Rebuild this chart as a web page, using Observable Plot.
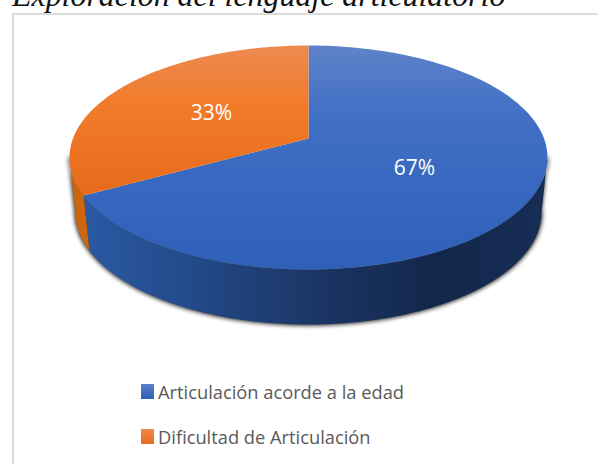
<!DOCTYPE html>
<html lang="es">
<head>
<meta charset="utf-8">
<script src="https://cdn.jsdelivr.net/npm/d3@7"></script>
<script src="https://cdn.jsdelivr.net/npm/@observablehq/plot@0.6"></script>
<style>
  html, body { margin: 0; padding: 0; background: #fff; }
  #page { position: relative; width: 598px; height: 464px; overflow: hidden; }
  #title { position: absolute; left: 12px; top: -21.5px; white-space: nowrap; font: italic 31.9px/33px "Liberation Serif", serif; color: #111; }
  #frame { position: absolute; left: 11.5px; top: 13px; width: 600px; height: 470px; border-left: 2px solid #dcdcdc; border-top: 2px solid #dcdcdc; }
  #chart { position: absolute; left: 0; top: 0; }
  #chart svg { background: transparent; display: block; }
  .item { position: absolute; left: 141px; height: 24px; display: flex; align-items: center; white-space: nowrap; font: 18.3px/24px "Open Sans", sans-serif; color: #595959; }
  .swatch { width: 13px; height: 15px; margin-right: 4px; }
</style>
</head>
<body>
<div id="page">
  <div id="title">Exploración del lenguaje articulatorio</div>
  <div id="frame"></div>
  <div id="chart"></div>
  <div id="legend"></div>
</div>
<script>
const categories = ["Articulación acorde a la edad", "Dificultad de Articulación"];
const shares = [67, 33];
const labels = ["67%", "33%"];
const topFills = ["url(#blueTop)", "url(#orangeTop)"];
const wallFills = ["url(#blueWall)", "url(#orangeWall)"];
const swatches = ["linear-gradient(#5a80cb,#2f60b8)", "linear-gradient(#ef8a4f,#e66c1a)"];

// Perspective of the tilted disc, in disc units
const tilt = 0.17, wallDepth = 0.505, wallShrink = 0.975;
const project = (deg, r = 1) => {
  const a = deg * Math.PI / 180, d = 1 + tilt * r * Math.cos(a);
  return {x: r * Math.sin(a) / d, y: -r * Math.cos(a) / d};
};
const total = d3.sum(shares);
let run = 0;
const slices = shares.map((v, i) => {
  const start = run / total * 360; run += v;
  return {i, start, end: run / total * 360};
});
const arc = (a, b) => d3.range(0, 181).map(k => project(a + (b - a) * k / 180));
const sector = s => [project(0, 0), ...arc(s.start, s.end), project(0, 0)];
const lower = p => ({x: p.x * wallShrink, y: p.y + wallDepth});
const wall = (a, b) => { const t = arc(a, b); return [...t, ...t.slice().reverse().map(lower)]; };
const horizon = Math.acos(-tilt) * 180 / Math.PI;          // right edge of the visible wall
const visibleEnd = 360 - horizon;                          // left edge
const wallParts = [
  {i: 0, a: horizon, b: slices[0].end},
  {i: 1, a: slices[1].start, b: visibleEnd}
];
const labelRows = slices.map(s => ({...project((s.start + s.end) / 2, 0.5), text: labels[s.i]}));

const defs = () => {
  const svg = d3.create("svg:defs");
  const grad = (id, horizontal, stops) => {
    const g = svg.append("linearGradient").attr("id", id)
      .attr("x1", 0).attr("y1", 0).attr("x2", horizontal ? 1 : 0).attr("y2", horizontal ? 0 : 1);
    stops.forEach(([o, c]) => g.append("stop").attr("offset", o).attr("stop-color", c));
  };
  grad("blueTop", false, [[0, "#5f83c9"], [0.3, "#4270c6"], [0.65, "#3767be"], [1, "#2f60b8"]]);
  grad("orangeTop", false, [[0, "#ec8a50"], [0.4, "#f27b2a"], [1, "#e56b1a"]]);
  grad("blueWall", true, [[0, "#2b5aa3"], [0.2, "#244c8d"], [0.48, "#1b3768"], [0.75, "#13274a"], [1, "#172d55"]]);
  grad("orangeWall", true, [[0, "#c96410"], [1, "#d0660f"]]);
  return svg.node();
};

const chart = Plot.plot({
  width: 598, height: 464,
  margin: 0,
  x: {domain: [-1, 1], range: [72.5, 543.5], axis: null},
  y: {domain: [-1, 1], range: [29.2, 246.8], axis: null},
  marks: [
    defs,
    Plot.line(wall(horizon, visibleEnd), {x: "x", y: "y", fill: "#222", stroke: "#222", strokeWidth: 2, imageFilter: "blur(2px)"}),
    ...wallParts.map(w => Plot.line(wall(w.a, w.b), {x: "x", y: "y", fill: wallFills[w.i], stroke: "none"})),
    ...slices.map(s => Plot.line(sector(s), {x: "x", y: "y", fill: topFills[s.i], stroke: "none"})),
    Plot.text(labelRows, {x: "x", y: "y", text: "text", fill: "white", fontSize: 21, fontFamily: "Open Sans", dy: 1})
  ]
});
document.getElementById("chart").append(chart);

const legend = document.getElementById("legend");
const legendTops = [379.5, 424.5];
categories.forEach((c, i) => {
  const row = document.createElement("div");
  row.className = "item";
  row.style.top = legendTops[i] + "px";
  const sw = document.createElement("span");
  sw.className = "swatch";
  sw.style.background = swatches[i];
  row.append(sw, c);
  legend.append(row);
});
</script>
</body>
</html>
